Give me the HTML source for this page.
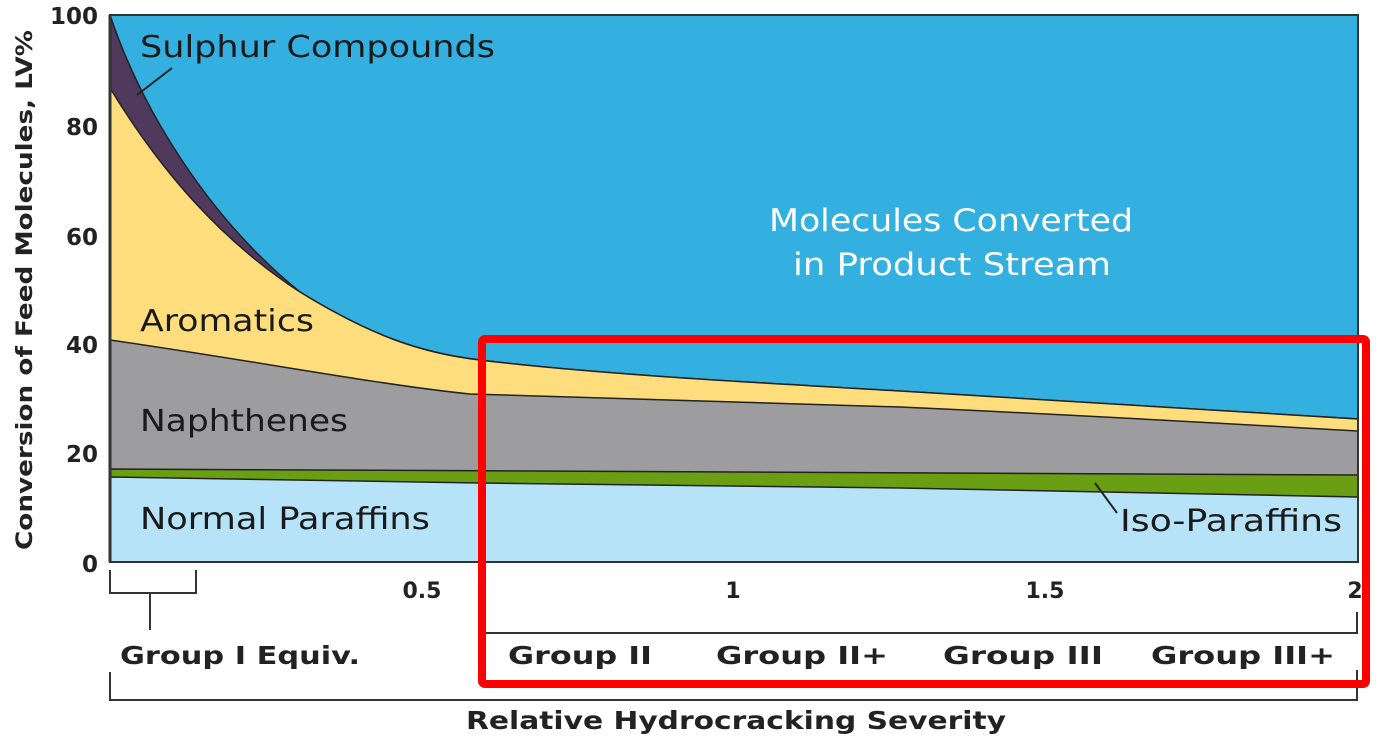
<!DOCTYPE html>
<html><head><meta charset="utf-8"><style>html,body{margin:0;padding:0;background:#fff}svg{display:block}</style></head><body>
<svg width="1382" height="744" viewBox="0 0 1382 744" xmlns="http://www.w3.org/2000/svg" font-family="'DejaVu Sans','Liberation Sans',sans-serif">
<rect x="110" y="15" width="1248" height="547" fill="#33b0e0"/>
<path d="M110,15 C140,105 205,215 300,292 C370,335 420,353 480,360 C600,375 800,385 900,391 C1100,402 1250,412 1358,419 L1358,562 L110,562 Z" fill="#4f3a5e" stroke="#222" stroke-width="1.5"/>
<path d="M110,88 C160,170 220,240 300,292 C370,335 420,353 480,360 C600,375 800,385 900,391 C1100,402 1250,412 1358,419 L1358,562 L110,562 Z" fill="#fddd7c" stroke="#222" stroke-width="1.5"/>
<path d="M110,340 C250,360 380,385 470,394 C700,400 800,403 900,407 C1100,416 1250,425 1358,431 L1358,562 L110,562 Z" fill="#9d9d9f" stroke="#222" stroke-width="1.5"/>
<path d="M110,469 L1358,475 L1358,562 L110,562 Z" fill="#6a9e13" stroke="#222" stroke-width="1.5"/>
<path d="M110,477 L480,483 L900,488 L1358,497 L1358,562 L110,562 Z" fill="#b6e3f7" stroke="#222" stroke-width="1.5"/>
<rect x="110" y="15" width="1248" height="547" fill="none" stroke="#333" stroke-width="2"/>
<line x1="110" y1="15" x2="110" y2="562" stroke="#333" stroke-width="3"/>
<line x1="137" y1="95" x2="172" y2="68" stroke="#222" stroke-width="2"/>
<line x1="1095" y1="483" x2="1117" y2="513" stroke="#222" stroke-width="2"/>
<g fill="#1a1a1a" font-size="30">
<text x="140" y="57" textLength="355" lengthAdjust="spacingAndGlyphs">Sulphur Compounds</text>
<text x="140" y="331" textLength="174" lengthAdjust="spacingAndGlyphs">Aromatics</text>
<text x="140" y="431" textLength="208" lengthAdjust="spacingAndGlyphs">Naphthenes</text>
<text x="140" y="529" textLength="290" lengthAdjust="spacingAndGlyphs">Normal Paraffins</text>
<text x="1120" y="531" textLength="222" lengthAdjust="spacingAndGlyphs">Iso-Paraffins</text>
</g>
<g fill="#fff" font-size="31">
<text x="769" y="231" textLength="364" lengthAdjust="spacingAndGlyphs">Molecules Converted</text>
<text x="793" y="275" textLength="318" lengthAdjust="spacingAndGlyphs">in Product Stream</text>
</g>
<g fill="#222" font-size="23" font-weight="bold" text-anchor="end">
<text x="98" y="24">100</text>
<text x="98" y="135">80</text>
<text x="98" y="245">60</text>
<text x="98" y="353">40</text>
<text x="98" y="462">20</text>
<text x="98" y="572">0</text>
</g>
<text transform="translate(32,290) rotate(-90)" text-anchor="middle" font-size="22" font-weight="bold" fill="#222" textLength="520" lengthAdjust="spacingAndGlyphs">Conversion of Feed Molecules, LV%</text>
<g fill="#222" font-size="22" font-weight="bold" text-anchor="middle">
<text x="422" y="598">0.5</text>
<text x="733" y="598">1</text>
<text x="1045" y="598">1.5</text>
<text x="1355" y="598">2</text>
</g>
<g stroke="#333" stroke-width="2" fill="none">
<path d="M110,570 V593 H196 V570"/>
<line x1="150" y1="593" x2="150" y2="630"/>
<path d="M485,633 H1357 V612"/>
<path d="M110,672 V700 H1357 V670"/>
</g>
<g fill="#222" font-size="25" font-weight="bold">
<text x="120" y="664" textLength="240" lengthAdjust="spacingAndGlyphs">Group I Equiv.</text>
<text x="508" y="664" textLength="144" lengthAdjust="spacingAndGlyphs">Group II</text>
<text x="716" y="664" textLength="172" lengthAdjust="spacingAndGlyphs">Group II+</text>
<text x="943" y="664" textLength="160" lengthAdjust="spacingAndGlyphs">Group III</text>
<text x="1151" y="664" textLength="184" lengthAdjust="spacingAndGlyphs">Group III+</text>
<text x="466" y="729" textLength="540" lengthAdjust="spacingAndGlyphs">Relative Hydrocracking Severity</text>
</g>
<rect x="482" y="339" width="884" height="345" rx="3" fill="none" stroke="#f00" stroke-width="8"/>
</svg>
</body></html>
